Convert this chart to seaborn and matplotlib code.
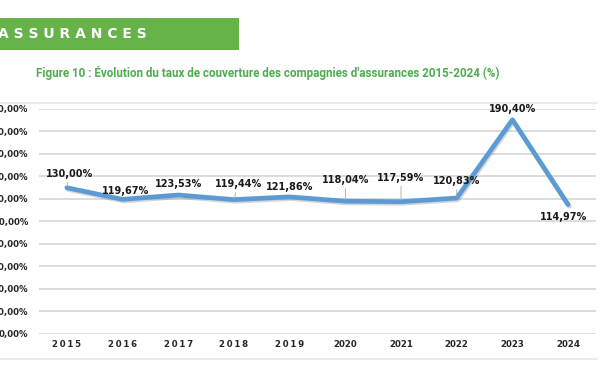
import matplotlib
matplotlib.use('Agg')
import matplotlib.pyplot as plt
import matplotlib.patheffects as pe
from matplotlib.patches import Rectangle
from matplotlib.lines import Line2D
import seaborn as sns
import pandas as pd

years = ['2015', '2016', '2017', '2018', '2019', '2020', '2021', '2022', '2023', '2024']
year_labels = ['2\u20090\u20091\u20095', '2\u20090\u20091\u20096', '2\u20090\u20091\u20097',
               '2\u20090\u20091\u20098', '2\u20090\u20091\u20099',
               '2020', '2021', '2022', '2023', '2024']
taux = [130.00, 119.67, 123.53, 119.44, 121.86, 118.04, 117.59, 120.83, 190.40, 114.97]
y_ticks = [0, 20, 40, 60, 80, 100, 120, 140, 160, 180, 200]
# offsets of the data labels (points)
lab_dx = [2, 2, 0, 3, 0, 0, 0, 0, 0, -3]
lab_dy = [10, 6, 8, 11, 7, 15, 17, 12, 8, -9]

df = pd.DataFrame({'annee': years, 'taux': taux})

sns.set_style('white')
plt.rcParams['font.family'] = ['DejaVu Sans']

fig = plt.figure(figsize=(6, 3.72), dpi=100)
ax = fig.add_axes([0.065, 0.1022, 0.9283, 0.6048])

sns.lineplot(data=df, x='annee', y='taux', ax=ax, color='#5b9bd5', linewidth=3.4,
             sort=False, zorder=3,
             path_effects=[pe.SimpleLineShadow(offset=(0.8, -1.2), shadow_color='#888888', alpha=0.35),
                           pe.Normal()])

ax.set_xlim(-0.5, 9.5)
ax.set_ylim(0, 200)
ax.set_yticks(y_ticks)
ax.set_yticklabels([f'{v},00%' for v in y_ticks], fontsize=6.2, fontweight='bold')
ax.set_xticks(range(len(years)))
ax.set_xticklabels(year_labels, fontsize=6.2, fontweight='bold')
ax.tick_params(axis='y', length=0, pad=7.9)
ax.tick_params(axis='x', length=0, pad=4)
ax.grid(axis='y', color='#d9d9d9', linewidth=1.3)
ax.set_xlabel('')
ax.set_ylabel('')
for s in ax.spines.values():
    s.set_visible(False)

for i, (v, dx, dy) in enumerate(zip(taux, lab_dx, lab_dy)):
    txt = f'{v:.2f}%'.replace('.', ',')
    arrow = dict(arrowstyle='-', color='#a6a6a6', lw=0.6, shrinkA=0, shrinkB=1) if dy > 9 and i != 8 else None
    ax.annotate(txt, (i, v), xytext=(dx, dy), textcoords='offset points',
                ha='center', va='center', fontsize=7, fontweight='bold', color='#1a1a1a',
                arrowprops=arrow, zorder=4)

# bandeau vert et titre
fig.add_artist(Rectangle((0, 0.8656), 0.398, 0.086, transform=fig.transFigure,
                         facecolor='#66b34a', edgecolor='none'))
fig.text(-0.004, 0.909, 'A S S U R A N C E S', color='white', fontsize=10, fontweight='bold',
         va='center', ha='left')
fig.text(0.447, 0.804, "Figure 10 : Évolution du taux de couverture des compagnies d'assurances 2015-2024 (%)",
         color='#4cae4f', fontsize=8.4, fontweight='bold', ha='center', va='center',
         family=['Roboto', 'DejaVu Sans'])

# cadre gris clair
for yy in [1 - 103 / 372, 1 - 359 / 372]:
    fig.add_artist(Line2D([0, 0.995], [yy, yy], transform=fig.transFigure, color='#e6e6e6', lw=1.2))

fig.savefig('out.png', dpi=100, facecolor='white')
